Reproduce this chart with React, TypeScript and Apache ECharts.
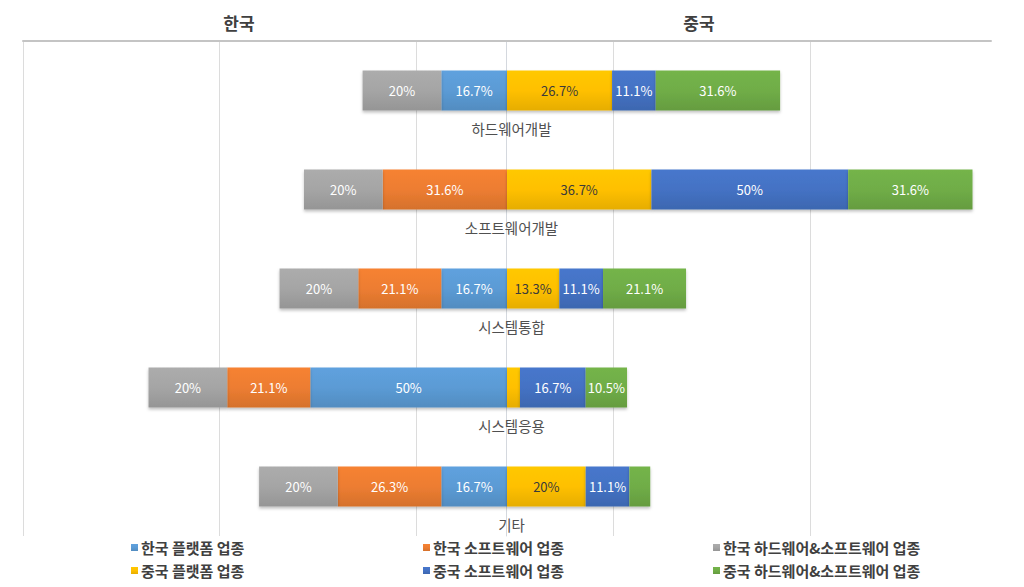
import React, { useEffect, useRef } from "react";
import * as echarts from "echarts";

const categories = ["하드웨어개발", "소프트웨어개발", "시스템통합", "시스템응용", "기타"];
const seriesNames = [
  "한국 플랫폼 업종",
  "한국 소프트웨어 업종",
  "한국 하드웨어&소프트웨어 업종",
  "중국 플랫폼 업종",
  "중국 소프트웨어 업종",
  "중국 하드웨어&소프트웨어 업종",
];
// Korea (drawn to the left)
const krPlatform = [16.7, 0, 16.7, 50, 16.7];
const krSoftware = [0, 31.6, 21.1, 21.1, 26.3];
const krHwSw = [20, 20, 20, 20, 20];
// China (drawn to the right)
const cnPlatform = [26.7, 36.7, 13.3, 3.3, 20];
const cnSoftware = [11.1, 50, 11.1, 16.7, 11.1];
const cnHwSw = [31.6, 31.6, 21.1, 10.5, 5.3];
const sideTitles = ["한국", "중국"];

const FONT = '"Noto Sans CJK KR", "Noto Sans", sans-serif';
const colors = ["#5b9bd5", "#ed7d31", "#a5a5a5", "#ffc000", "#4472c4", "#70ad47"];
const labelColors = ["#ffffff", "#ffffff", "#ffffff", "#3a3a3a", "#ffffff", "#ffffff"];

function shade(hex: string, f: number) {
  const n = parseInt(hex.slice(1), 16);
  const r = Math.min(255, Math.round(((n >> 16) & 255) * f));
  const g = Math.min(255, Math.round(((n >> 8) & 255) * f));
  const b = Math.min(255, Math.round((n & 255) * f));
  return `rgb(${r},${g},${b})`;
}

export default function App() {
  const ref = useRef<HTMLDivElement>(null);
  useEffect(() => {
    if (!ref.current) return;
    const chart = echarts.init(ref.current, undefined, { renderer: "svg" });
    const values = [krPlatform, krSoftware, krHwSw, cnPlatform, cnSoftware, cnHwSw];
    const series = values.map((arr, i) => ({
      name: seriesNames[i],
      type: "bar",
      stack: "total",
      barWidth: 40,
      xAxisIndex: 0,
      data: arr.map((v) => (i < 3 ? -v : v)),
      itemStyle: {
        color: new echarts.graphic.LinearGradient(0, 0, 0, 1, [
          { offset: 0, color: shade(colors[i], 1.04) },
          { offset: 0.5, color: colors[i] },
          { offset: 1, color: shade(colors[i], 0.9) },
        ]),
        shadowColor: "rgba(0,0,0,0.25)",
        shadowBlur: 3,
        shadowOffsetY: 2,
      },
      label: {
        show: true,
        position: "inside",
        color: labelColors[i],
        fontSize: 13,
        fontFamily: FONT,
        formatter: (p: any) => {
          const v = Math.abs(p.value);
          return v >= 6 ? `${v}%` : "";
        },
      },
    }));

    chart.setOption({
      animation: false,
      textStyle: { fontFamily: FONT },
      grid: {
        left: 23,
        right: 33,
        top: 41,
        bottom: 51,
        containLabel: false,
        outerBoundsMode: "none",
      },
      graphic: sideTitles.map((t, i) => ({
        type: "text",
        x: i === 0 ? 239 : 699,
        y: 22,
        style: {
          text: t,
          fontSize: 17,
          fontWeight: "bold",
          fontFamily: FONT,
          fill: "#404040",
          align: "center",
          verticalAlign: "middle",
        },
      })),
      legend: [0, 1, 2].map((c) => ({
        data: [seriesNames[c], seriesNames[c + 3]],
        orient: "vertical",
        left: [131, 423, 713][c],
        top: 540,
        padding: 0,
        itemGap: 8,
        itemWidth: 7,
        itemHeight: 7,
        icon: "rect",
        textStyle: { fontSize: 15, fontWeight: "bold", color: "#404040", fontFamily: FONT, padding: [0, 0, 0, -2] },
      })),
      xAxis: [
        {
          type: "value",
          position: "top",
          min: -123,
          max: 123,
          axisLine: { show: true, onZero: false, lineStyle: { color: "#c4c4c4", width: 2 } },
          axisTick: { show: false },
          axisLabel: { show: false },
          splitLine: { show: false },
        },
        {
          type: "value",
          position: "top",
          min: 0,
          max: 4.92,
          interval: 1,
          axisLine: { show: false },
          axisTick: { show: false },
          axisLabel: { show: false },
          splitLine: { show: true, showMaxLine: false, lineStyle: { color: "#dcdcdc", width: 1 } },
        },
      ],
      yAxis: {
        type: "category",
        data: categories,
        inverse: true,
        position: "left",
        offset: -483.5,
        axisLine: { show: true, onZero: false, lineStyle: { color: "#d4d8de", width: 1 } },
        axisTick: { show: false },
        axisLabel: {
          interval: 0,
          margin: -5,
          align: "center",
          verticalAlign: "top",
          padding: [31, 0, 0, 0],
          fontSize: 14.5,
          color: "#505050",
          fontFamily: FONT,
        },
      },
      series,
    });
    return () => chart.dispose();
  }, []);
  return (
    <div
      ref={ref}
      style={{ position: "fixed", left: 0, top: 0, width: 1024, height: 587, background: "#fff" }}
    />
  );
}
